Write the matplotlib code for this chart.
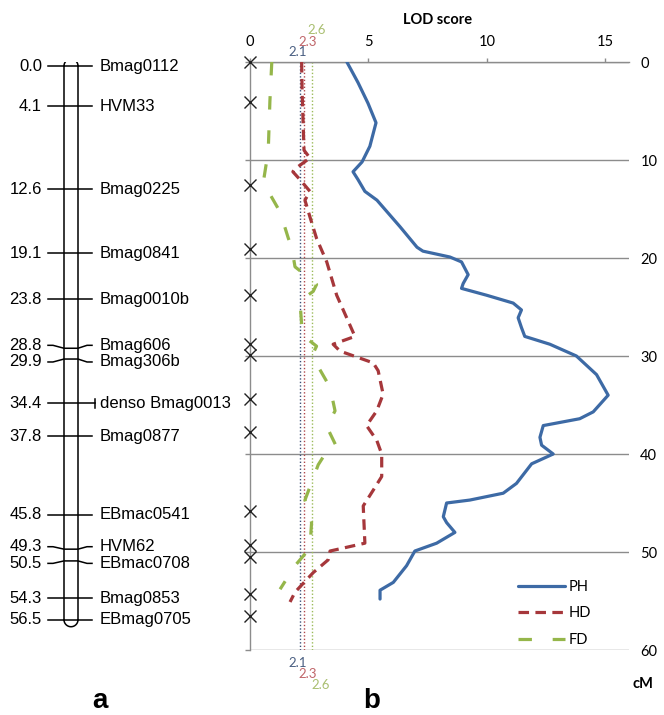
import numpy as np
import matplotlib
matplotlib.use("Agg")
import matplotlib.pyplot as plt

# ---------------- linkage map (panel a) ----------------
marker_cm = [0.0, 4.1, 12.6, 19.1, 23.8, 28.8, 29.9, 34.4, 37.8, 45.8, 49.3, 50.5, 54.3, 56.5]
marker_names = ["Bmag0112", "HVM33", "Bmag0225", "Bmag0841", "Bmag0010b", "Bmag606",
                "Bmag306b", "denso Bmag0013", "Bmag0877", "EBmac0541", "HVM62",
                "EBmac0708", "Bmag0853", "EBmag0705"]

# ---------------- LOD profiles (panel b) ----------------
ph_cm = [0, 2.1, 4.2, 6.2, 8.6, 10.2, 11.2, 12.0, 13.2, 14.1, 16.8, 18.9, 19.3, 19.9, 20.4,
         21.7, 22.6, 23.1, 23.8, 24.6, 25.3, 26.1, 27.1, 28.0, 28.8, 30.0, 31.9, 34.0, 35.7,
         36.4, 37.1, 38.3, 39.1, 40.0, 41.0, 43.0, 44.0, 44.7, 45.0, 46.4, 47.0, 48.0, 49.1,
         49.9, 51.4, 53.1, 53.9, 54.8]
ph_lod = [4.09, 4.56, 4.98, 5.32, 5.06, 4.73, 4.35, 4.56, 4.85, 5.36, 6.33, 7.05, 7.30, 8.44,
          8.93, 9.21, 9.00, 8.93, 9.99, 11.11, 11.46, 11.32, 11.46, 11.60, 12.66, 13.78, 14.63,
          15.12, 14.49, 13.92, 12.38, 12.24, 12.31, 12.80, 11.89, 11.25, 10.69, 9.28, 8.30,
          8.16, 8.30, 8.65, 7.88, 6.96, 6.61, 6.05, 5.49, 5.49]

hd_cm = [0, 3.0, 6.0, 9.0, 9.8, 10.9, 11.2, 12.0, 13.2, 14.1, 15.8, 18.0, 20.4, 23.8, 28.0,
         28.8, 29.5, 30.7, 31.5, 33.9, 35.6, 37.1, 38.6, 40.0, 42.3, 43.7, 45.3, 49.1, 49.9,
         50.8, 52.1, 54.1, 55.1]
hd_lod = [2.18, 2.20, 2.24, 2.28, 2.53, 1.90, 1.81, 2.11, 2.53, 2.32, 2.53, 2.81, 3.24, 3.66,
          4.43, 3.51, 3.80, 5.20, 5.41, 5.62, 5.35, 4.92, 5.35, 5.56, 5.56, 5.20, 4.78, 4.85,
          3.38, 3.30, 2.67, 1.90, 1.69]

fd_cm = [0, 4.0, 9.1, 12.3, 15.3, 18.0, 18.9, 20.9, 21.7, 22.7, 23.4, 24.4, 26.8, 27.8, 29.0,
         29.7, 30.8, 33.2, 35.6, 37.2, 39.3, 40.3, 41.1, 44.7, 47.0, 49.6, 51.4, 53.8]
fd_lod = [0.92, 0.84, 0.77, 0.56, 1.27, 1.62, 1.76, 1.90, 2.32, 2.81, 2.67, 2.11, 2.18, 2.18,
          2.81, 2.67, 2.81, 3.38, 3.59, 3.24, 3.66, 3.09, 2.88, 2.32, 2.60, 2.53, 1.90, 1.27]

thresholds = [2.1, 2.3, 2.6]
threshold_labels = ["2.1", "2.3", "2.6"]

PH_COL = "#3d6aa5"
HD_COL = "#a6373b"
FD_COL = "#95b64a"
THR_LINE = ["#3b4f78", "#b0474a", "#9bbb59"]
THR_TEXT = ["#4a5f82", "#c0666a", "#a9bf70"]
GRID = "#8c8c8c"

W, H = 664, 715
fig = plt.figure(figsize=(W / 100, H / 100), dpi=100)


def spread(pos, gap):
    # push crowded label positions apart
    pos = list(pos)
    for _ in range(20):
        for i in range(1, len(pos)):
            d = pos[i] - pos[i - 1]
            if d < gap:
                pos[i - 1] -= (gap - d) / 2
                pos[i] += (gap - d) / 2
    return pos


# -------------------panel a: chromosome--------------------------
axa = fig.add_axes([0, 1 - 650 / H, 240 / W, 588 / H])
axa.set_xlim(0, 240)
axa.set_ylim(60 - 0.41, -0.41)
axa.axis("off")

top, bot = marker_cm[0], marker_cm[-1]
axa.plot([64, 64], [top, bot], color="black", lw=1.1)
axa.plot([78, 78], [top, bot], color="black", lw=1.1)
t = np.linspace(0, np.pi, 60)
ry = 7 / 9.8
axa.plot(71 + 7 * np.cos(t), top - ry * np.sin(t), color="black", lw=1.1)
axa.plot(71 + 7 * np.cos(t), bot + ry * np.sin(t), color="black", lw=1.1)

label_y = spread(marker_cm, 1.7)
for cm, ly, name in zip(marker_cm, label_y, marker_names):
    if name.startswith("denso"):
        axa.plot([48, 95], [cm, cm], color="black", lw=1.1)
        axa.plot([95, 95], [cm - 0.45, cm + 0.45], color="black", lw=1.1)
    else:
        axa.plot([48, 53, 64, 78, 87, 92], [ly, ly, cm, cm, ly, ly], color="black", lw=1.1)
    axa.text(42, ly, f"{cm:.1f}", ha="right", va="center", fontsize=12,
             family="Liberation Sans")
    axa.text(100, ly, name, ha="left", va="center", fontsize=12, family="Liberation Sans")

# -------------------panel b: LOD curves--------------------------
ax = fig.add_axes([250 / W, 1 - 650 / H, 379 / W, 588 / H])
ax.set_xlim(0, 16)
ax.set_ylim(60, 0)

for val, col in zip(thresholds, THR_LINE):
    ax.axvline(val, color=col, lw=1.0, ls=(0, (1, 1.5)), zorder=1)

ax.plot(ph_lod, ph_cm, color=PH_COL, lw=2.3, label="PH", zorder=4,
        solid_joinstyle="round", solid_capstyle="round")
ax.plot(hd_lod, hd_cm, color=HD_COL, lw=2.3, dashes=(3.3, 2.0), label="HD", zorder=3,
        dash_joinstyle="round")
ax.plot(fd_lod, fd_cm, color=FD_COL, lw=2.3, dashes=(4.2, 6.5), label="FD", zorder=3,
        dash_joinstyle="round")

ax.plot(np.zeros(len(marker_cm)), marker_cm, "x", color="#222222", ms=8, mew=1.0,
        clip_on=False, zorder=5)

ax.set_yticks(range(0, 61, 10))
ax.yaxis.grid(True, color=GRID, lw=1.0)
ax.set_axisbelow(True)
ax.tick_params(axis="y", left=True, right=False, labelleft=False, labelright=True,
               length=3.6, width=1.0, color=GRID, pad=4.5, labelsize=10.5)
for lab in ax.get_yticklabels():
    lab.set_family("Lato")

ax.xaxis.tick_top()
ax.set_xticks([0, 5, 10, 15])
ax.tick_params(axis="x", direction="out", length=3, width=1.0, color=GRID, pad=6,
               labelsize=10.5)
for lab in ax.get_xticklabels():
    lab.set_family("Lato")

for side in ["right", "bottom"]:
    ax.spines[side].set_visible(False)
for side in ["top", "left"]:
    ax.spines[side].set_color(GRID)
    ax.spines[side].set_linewidth(1.0)

top_off = [(-2, 10), (3.5, 20), (5.5, 32)]
bot_off = [(-2, -13), (3.5, -24), (9, -35)]
for val, txt, col, (dx, dy), (bx, by) in zip(thresholds, threshold_labels, THR_TEXT,
                                              top_off, bot_off):
    ax.annotate(txt, xy=(val, 0), xytext=(dx, dy), textcoords="offset pixels",
                ha="center", va="center", color=col, fontsize=9.5, family="Lato",
                annotation_clip=False)
    ax.annotate(txt, xy=(val, 60), xytext=(bx, by), textcoords="offset pixels",
                ha="center", va="center", color=col, fontsize=9.5, family="Lato",
                annotation_clip=False)

leg = ax.legend(loc="upper left", bbox_to_anchor=((518 - 250) / 379, 1 - (580 - 62) / 588),
                frameon=False, handlelength=3.2, handletextpad=0.25,
                labelspacing=0.85, borderpad=0, borderaxespad=0,
                prop={"family": "Lato", "size": 10.5})

fig.text(438 / W, 1 - 20 / H, "LOD score", ha="center", va="center", fontsize=10.5,
         fontweight="bold", family="Lato")
fig.text(643 / W, 1 - 684 / H, "cM", ha="center", va="center", fontsize=10.5,
         fontweight="bold", family="Lato")
fig.text(100 / W, 1 - 708 / H, "a", ha="center", va="baseline", fontsize=20,
         fontweight="bold", family="Liberation Sans")
fig.text(372 / W, 1 - 708 / H, "b", ha="center", va="baseline", fontsize=20,
         fontweight="bold", family="Liberation Sans")

fig.savefig("out.png", dpi=100)
